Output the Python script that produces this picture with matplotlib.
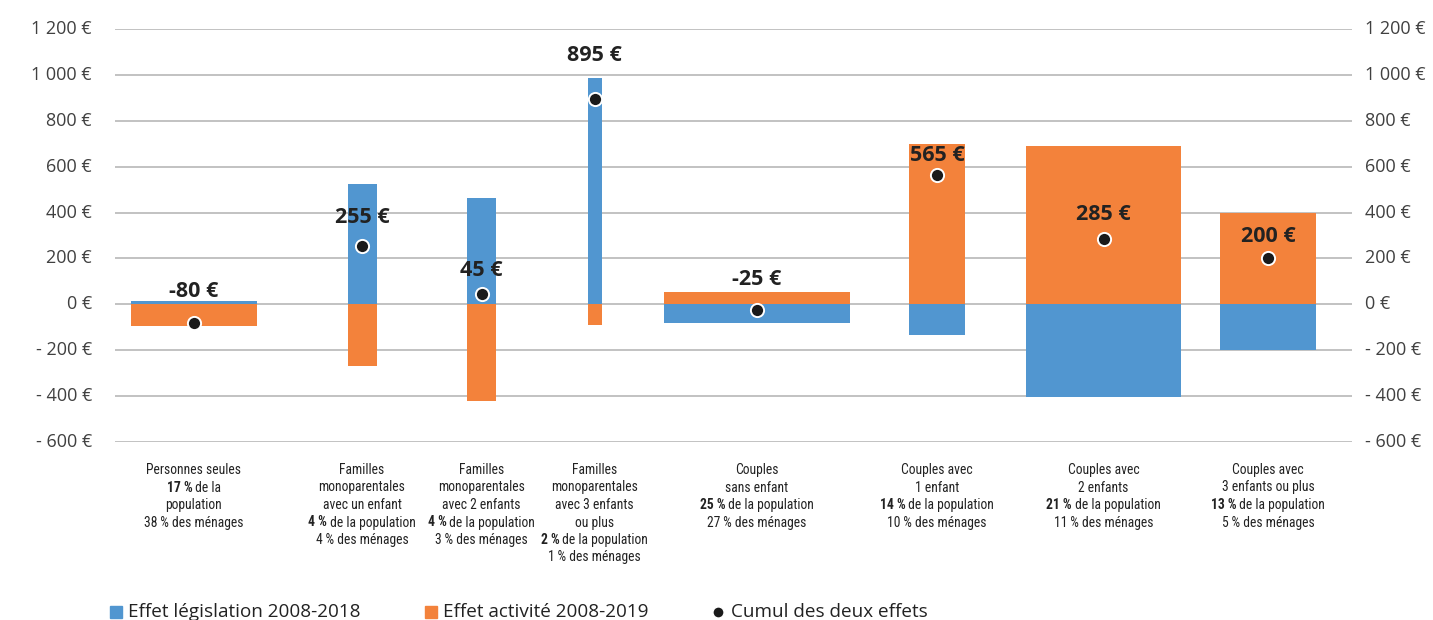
import matplotlib
matplotlib.use("Agg")
import matplotlib.pyplot as plt
from matplotlib import font_manager
from matplotlib.patches import Rectangle
from matplotlib.lines import Line2D
import matplotlib.transforms as mtransforms

# data
blue_legis = [15, 525, 465, 985, -80, -135, -405, -200]
orange_activ = [-95, -270, -420, -90, 55, 700, 690, 400]
cumul = [-80, 255, 45, 895, -25, 565, 285, 200]
P = "\u202f%"  # narrow space before percent sign
cat_lines = [
    [("", "Personnes seules"), ("17" + P, " de la"), ("", "population"), ("", "38" + P + " des ménages")],
    [("", "Familles"), ("", "monoparentales"), ("", "avec un enfant"), ("4" + P, " de la population"), ("", "4" + P + " des ménages")],
    [("", "Familles"), ("", "monoparentales"), ("", "avec 2 enfants"), ("4" + P, " de la population"), ("", "3" + P + " des ménages")],
    [("", "Familles"), ("", "monoparentales"), ("", "avec 3 enfants"), ("", "ou plus"), ("2" + P, " de la population"), ("", "1" + P + " des ménages")],
    [("", "Couples"), ("", "sans enfant"), ("25" + P, " de la population"), ("", "27" + P + " des ménages")],
    [("", "Couples avec"), ("", "1 enfant"), ("14" + P, " de la population"), ("", "10" + P + " des ménages")],
    [("", "Couples avec"), ("", "2 enfants"), ("21" + P, " de la population"), ("", "11" + P + " des ménages")],
    [("", "Couples avec"), ("", "3 enfants ou plus"), ("13" + P, " de la population"), ("", "5" + P + " des ménages")],
]
yticks = [-600, -400, -200, 0, 200, 400, 600, 800, 1000, 1200]

# layout (x units = pixels from left of plot area)
centers = [79, 247, 366.5, 479.5, 642, 822, 988.5, 1153]
widths = [126, 29, 29, 14, 186, 56, 155, 96]
label_dy = [138, 124, 104, 188, 135, 85, 108, 97]

BLUE = "#5196d0"
ORANGE = "#f3823b"
DARK = "#222222"
TICK = "#404040"

# pick the narrowest family we can find for the category captions
fonts = font_manager.fontManager.ttflist
names = {f.name for f in fonts}
cat_stretch = "normal"
cat_size = 9.8
if "Liberation Sans Narrow" in names:
    cat_family = "Liberation Sans Narrow"
elif "Roboto Condensed" in names:
    cat_family = "Roboto Condensed"
elif any(f.name == "DejaVu Sans" and f.stretch == "condensed" for f in fonts):
    cat_family = "DejaVu Sans"
    cat_stretch = "condensed"
    cat_size = 9
else:
    cat_family = "Lato"
    cat_size = 8.8

W, H = 1433, 620
fig = plt.figure(figsize=(W / 100, H / 100), dpi=100)
ax = fig.add_axes([115 / W, 1 - 442 / H, (1352 - 115) / W, (442 - 29) / H])

ax.bar(centers, blue_legis, width=widths, color=BLUE, zorder=2)
ax.bar(centers, orange_activ, width=widths, color=ORANGE, zorder=2)
ax.scatter(centers, cumul, s=90, color="#1a1a1a", edgecolors="white", linewidths=1.4, zorder=4)

for cx, v, dy in zip(centers, cumul, label_dy):
    ax.text(cx, v + dy, f"{v} €", ha="center", va="center", fontsize=15.5,
            fontweight="bold", color=DARK, family="Open Sans", zorder=5)

ax.set_xlim(0, 1237)
ax.set_ylim(-600, 1200)
for y in yticks:
    ax.axhline(y, color="#bdbdbd", lw=1.3, zorder=1)
for s in ax.spines.values():
    s.set_visible(False)
ax.set_xticks([])
ax.set_yticks([])


def fmt(v):
    s = f"{abs(v):,}".replace(",", " ")
    return ("- " if v < 0 else "") + s + " €"


for y in yticks:
    ax.text(-23, y, fmt(y), ha="right", va="center", fontsize=13,
            color=TICK, family="Open Sans")
    ax.text(1250, y, fmt(y), ha="left", va="center", fontsize=13,
            color=TICK, family="Open Sans")

# category labels under the plot
renderer = fig.canvas.get_renderer()
bt = mtransforms.blended_transform_factory(ax.transData, fig.transFigure)
inv = ax.transData.inverted()
kw = dict(transform=bt, va="center", fontsize=cat_size, color=DARK,
          family=[cat_family, "DejaVu Sans"], fontstretch=cat_stretch)
for cx, lines in zip(centers, cat_lines):
    for i, (bold, rest) in enumerate(lines):
        yf = 1 - (470 + i * 17.5) / H
        if not bold:
            ax.text(cx, yf, rest, ha="center", **kw)
            continue
        t1 = ax.text(cx, yf, bold, ha="left", fontweight="bold", **kw)
        t2 = ax.text(cx, yf, rest, ha="left", **kw)
        w1 = t1.get_window_extent(renderer).width
        w2 = t2.get_window_extent(renderer).width
        cdisp = ax.transData.transform((cx, 0))[0]
        left = cdisp - (w1 + w2) / 2
        t1.set_x(inv.transform((left, 0))[0])
        t2.set_x(inv.transform((left + w1, 0))[0])

# legend along the bottom edge
ly = 1 - 612 / H
fig.patches.append(Rectangle((110 / W, ly - 6 / H), 12 / W, 12 / H, color=BLUE,
                             transform=fig.transFigure, figure=fig))
fig.text(128 / W, ly, "Effet législation 2008-2018", fontsize=13.6, va="center",
         color=DARK, family="Open Sans")
fig.patches.append(Rectangle((425 / W, ly - 6 / H), 12 / W, 12 / H, color=ORANGE,
                             transform=fig.transFigure, figure=fig))
fig.text(443 / W, ly, "Effet activité 2008-2019", fontsize=13.6, va="center",
         color=DARK, family="Open Sans")
fig.lines.append(Line2D([718 / W], [ly], marker="o", markersize=8, color="#1a1a1a",
                        markeredgecolor="white", transform=fig.transFigure))
fig.text(731 / W, ly, "Cumul des deux effets", fontsize=13.6, va="center",
         color=DARK, family="Open Sans")

fig.savefig("out.png", dpi=100, facecolor="white")
